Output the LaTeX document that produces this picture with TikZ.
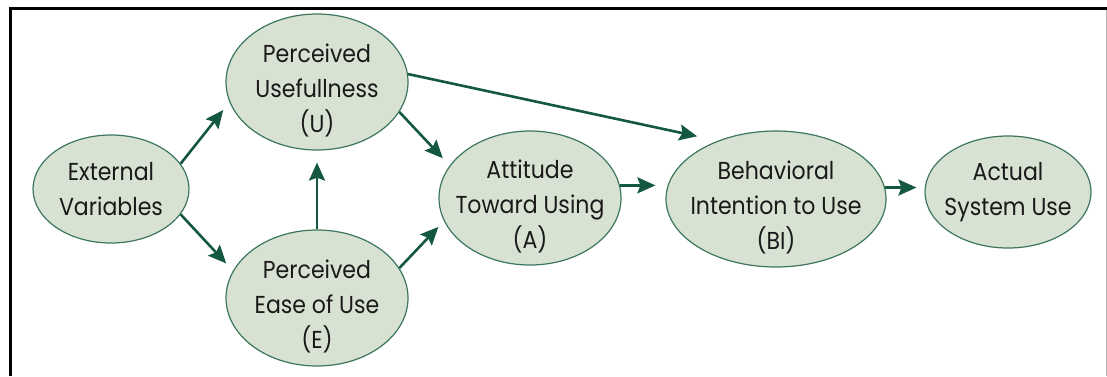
\documentclass[tikz,border=0pt]{standalone}
\usepackage{fontspec}
\setmainfont{Poppins}[FakeStretch=0.9]
\usetikzlibrary{shapes.geometric,arrows.meta}
\definecolor{ellfill}{RGB}{216,226,210}
\definecolor{elledge}{RGB}{60,118,94}
\definecolor{arrgreen}{RGB}{20,88,64}

\begin{document}
\begin{tikzpicture}[x=1pt, y=-1pt,
    ell/.style={ellipse, draw=elledge, fill=ellfill, line width=1.2pt, inner sep=-16pt,
        align=center, text=black!90, font=\fontsize{24.5}{35}\selectfont},
    drop/.style={text height=106pt},
    arr/.style={draw=arrgreen, line width=2.6pt, -{Stealth[length=18pt,width=16pt,inset=3pt]}, shorten >=10pt}]
    \useasboundingbox (0,0) rectangle (1107,376);

    % Frame
    \draw[line width=3.2pt] (10.5,376) -- (10.5,8.5) -- (1107,8.5);
    \draw[gray!60, line width=1pt] (1106,10) -- (1106,376);

    % Concepts
    \node[ell, minimum width=156pt, minimum height=108pt] (ext) at (111,189) {External\\Variables};
    \node[ell, drop, minimum width=182pt, minimum height=136pt] (pu) at (317,82) {Perceived\\Usefullness\\(U)};
    \node[ell, drop, minimum width=182pt, minimum height=136pt] (pe) at (317,298) {Perceived\\Ease of Use\\(E)};
    \node[ell, drop, minimum width=182pt, minimum height=134pt] (att) at (530,198) {Attitude\\Toward Using\\(A)};
    \node[ell, drop, minimum width=220pt, minimum height=136pt] (bi) at (776,199) {Behavioral\\Intention to Use\\(BI)};
    \node[ell, minimum width=166pt, minimum height=112pt] (use) at (1008,192) {Actual\\System Use};

    % Relations
    \draw[arr] (ext.20) -- (pu.193);
    \draw[arr] (ext.-20) -- (pe.162);
    \draw[arr, shorten >=12pt] (pe.north) -- (pu.south);
    \draw[arr] (pu.-20) -- (att.158);
    \draw[arr, shorten >=8pt] (pe.20) -- (att.195);
    \draw[arr, shorten >=21pt] (pu.5) -- (bi.135);
    \draw[arr] (att.8) -- (att.8 -| bi.west);
    \draw[arr, shorten >=8pt] (bi.6) -- (bi.6 -| use.west);
\end{tikzpicture}
\end{document}
